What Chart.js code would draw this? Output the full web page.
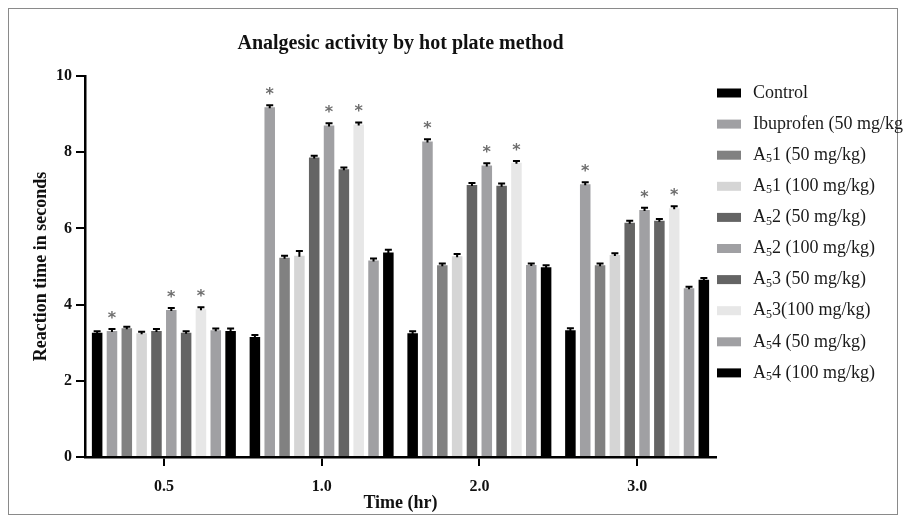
<!DOCTYPE html>
<html>
<head>
<meta charset="utf-8">
<script src="https://cdn.jsdelivr.net/npm/chart.js@4.4.0/dist/chart.umd.min.js"></script>
<style>
html,body{margin:0;padding:0;background:#fff;}
#wrap{width:906px;height:523px;position:relative;}
</style>
</head>
<body>
<div id="wrap"><canvas id="c" width="906" height="523"></canvas></div>
<script>
// ---- data ----
const timeLabels = ['0.5', '1.0', '2.0', '3.0'];
const seriesNames = ['Control', 'Ibuprofen (50 mg/kg', 'A₅1 (50 mg/kg)', 'A₅1 (100 mg/kg)', 'A₅2 (50 mg/kg)', 'A₅2 (100 mg/kg)', 'A₅3 (50 mg/kg)', 'A₅3(100 mg/kg)', 'A₅4 (50 mg/kg)', 'A₅4 (100 mg/kg)'];
const control      = [3.26, 3.15, 3.25, 3.33];
const ibuprofen50  = [3.31, 9.18, 8.28, 7.16];
const a51_50       = [3.38, 5.23, 5.03, 5.03];
const a51_100      = [3.25, 5.28, 5.27, 5.30];
const a52_50       = [3.31, 7.86, 7.14, 6.15];
const a52_100      = [3.86, 8.70, 7.65, 6.48];
const a53_50       = [3.26, 7.55, 7.12, 6.20];
const a53_100      = [3.88, 8.73, 7.72, 6.53];
const a54_50       = [3.33, 5.16, 5.04, 4.43];
const a54_100      = [3.31, 5.37, 4.98, 4.65];
// standard errors (small caps on the bars)
const errControl   = [0.04, 0.05, 0.05, 0.05];
const errIbuprofen = [0.05, 0.05, 0.06, 0.05];
const errA51_50    = [0.04, 0.05, 0.05, 0.05];
const errA51_100   = [0.04, 0.13, 0.06, 0.05];
const errA52_50    = [0.05, 0.05, 0.05, 0.05];
const errA52_100   = [0.05, 0.06, 0.06, 0.06];
const errA53_50    = [0.04, 0.05, 0.06, 0.05];
const errA53_100   = [0.05, 0.05, 0.05, 0.05];
const errA54_50    = [0.04, 0.05, 0.04, 0.04];
const errA54_100   = [0.06, 0.07, 0.05, 0.05];
// significance stars (1 = starred)
const sigIbuprofen = [1, 1, 1, 1];
const sigA52_100   = [1, 1, 1, 1];
const sigA53_100   = [1, 1, 1, 1];
const sigNone      = [0, 0, 0, 0];
const yTicks = [0, 2, 4, 6, 8, 10];

const values = [control, ibuprofen50, a51_50, a51_100, a52_50, a52_100, a53_50, a53_100, a54_50, a54_100];
const errors = [errControl, errIbuprofen, errA51_50, errA51_100, errA52_50, errA52_100, errA53_50, errA53_100, errA54_50, errA54_100];
const sigs = [sigNone, sigIbuprofen, sigNone, sigNone, sigNone, sigA52_100, sigNone, sigA53_100, sigNone, sigNone];
const colors = ['#000000', '#a0a0a3', '#818181', '#d5d5d5', '#646464', '#a0a0a3', '#646464', '#e7e7e7', '#a0a0a3', '#000000'];

const SERIF = '"Liberation Serif", "Times New Roman", serif';

const datasets = values.map((v, i) => ({
  label: seriesNames[i],
  data: v,
  backgroundColor: colors[i],
  borderWidth: 0,
  categoryPercentage: 0.94,
  barPercentage: 0.71,
  errs: errors[i],
  sig: sigs[i]
}));

const extras = {
  id: 'extras',
  beforeDraw(chart) {
    const ctx = chart.ctx;
    ctx.save();
    ctx.fillStyle = '#fff';
    ctx.fillRect(0, 0, chart.width, chart.height);
    ctx.strokeStyle = '#8a8a8a';
    ctx.lineWidth = 1;
    ctx.strokeRect(8.5, 8.5, 889, 506);
    ctx.restore();
  },
  afterDatasetsDraw(chart) {
    const ctx = chart.ctx;
    const ys = chart.scales.y;
    ctx.save();
    chart.data.datasets.forEach((ds, i) => {
      const meta = chart.getDatasetMeta(i);
      meta.data.forEach((el, j) => {
        const v = ds.data[j];
        const e = ds.errs[j];
        const yTop = ys.getPixelForValue(v + e);
        const yB = ys.getPixelForValue(v);
        ctx.strokeStyle = '#000';
        ctx.lineWidth = 2;
        ctx.beginPath();
        ctx.moveTo(el.x, yB + 1);
        ctx.lineTo(el.x, yTop);
        ctx.moveTo(el.x - 3.5, yTop);
        ctx.lineTo(el.x + 3.5, yTop);
        ctx.stroke();
        if (ds.sig[j]) {
          ctx.fillStyle = '#6e6e6e';
          ctx.font = 'bold 16px "DejaVu Sans", sans-serif';
          ctx.textAlign = 'center';
          ctx.textBaseline = 'alphabetic';
          ctx.fillText('*', el.x, yTop - 16 + 10);
        }
      });
    });
    ctx.restore();
  },
  afterDraw(chart) {
    const ctx = chart.ctx;
    ctx.save();
    chart.data.datasets.forEach((ds, i) => {
      const y = 93 + i * 31.1;
      ctx.fillStyle = ds.backgroundColor;
      ctx.fillRect(717, y - 4.5, 24, 9);
      ctx.fillStyle = '#1a1a1a';
      ctx.textBaseline = 'middle';
      ctx.textAlign = 'left';
      const parts = ds.label.split('₅');
      let x = 753;
      ctx.font = '18px ' + SERIF;
      ctx.fillText(parts[0], x, y);
      x += ctx.measureText(parts[0]).width;
      if (parts.length > 1) {
        ctx.font = '12px ' + SERIF;
        ctx.fillText('5', x, y + 4);
        x += ctx.measureText('5').width;
        ctx.font = '18px ' + SERIF;
        ctx.fillText(parts[1], x, y);
      }
    });
    ctx.restore();
  }
};

new Chart(document.getElementById('c'), {
  type: 'bar',
  data: { labels: timeLabels, datasets },
  options: {
    responsive: false,
    animation: false,
    layout: { padding: { left: 0, right: 190, top: 0, bottom: 0 } },
    plugins: {
      legend: { display: false },
      tooltip: { enabled: false },
      title: {
        display: true,
        text: 'Analgesic activity by hot plate method',
        fullSize: false,
        color: '#111',
        font: { family: SERIF, size: 20, weight: 'bold' },
        padding: { top: 32, bottom: 20 }
      }
    },
    scales: {
      x: {
        afterFit(scale) { scale.height = 66; },
        grid: { display: true, offset: false, drawOnChartArea: false, drawTicks: true, tickLength: 9, color: '#000', lineWidth: 2 },
        border: { display: true, color: '#000', width: 2.5 },
        ticks: { color: '#111', font: { family: SERIF, size: 16, weight: 'bold' }, padding: 11 },
        title: { display: true, text: 'Time (hr)', color: '#111', font: { family: SERIF, size: 18, weight: 'bold' }, padding: { top: 0, bottom: 9 } }
      },
      y: {
        min: 0, max: 10,
        afterFit(scale) { scale.width = 85; },
        afterBuildTicks(scale) { scale.ticks = yTicks.map(v => ({ value: v })); },
        grid: { display: true, drawOnChartArea: false, drawTicks: true, tickLength: 9, color: '#000', lineWidth: 2 },
        border: { display: true, color: '#000', width: 2.5 },
        ticks: { color: '#111', font: { family: SERIF, size: 16, weight: 'bold' }, padding: 4 },
        title: { display: true, text: 'Reaction time in seconds', color: '#111', font: { family: SERIF, size: 18, weight: 'bold' }, padding: { top: 31, bottom: 0 } }
      }
    }
  },
  plugins: [extras]
});
</script>
</body>
</html>
